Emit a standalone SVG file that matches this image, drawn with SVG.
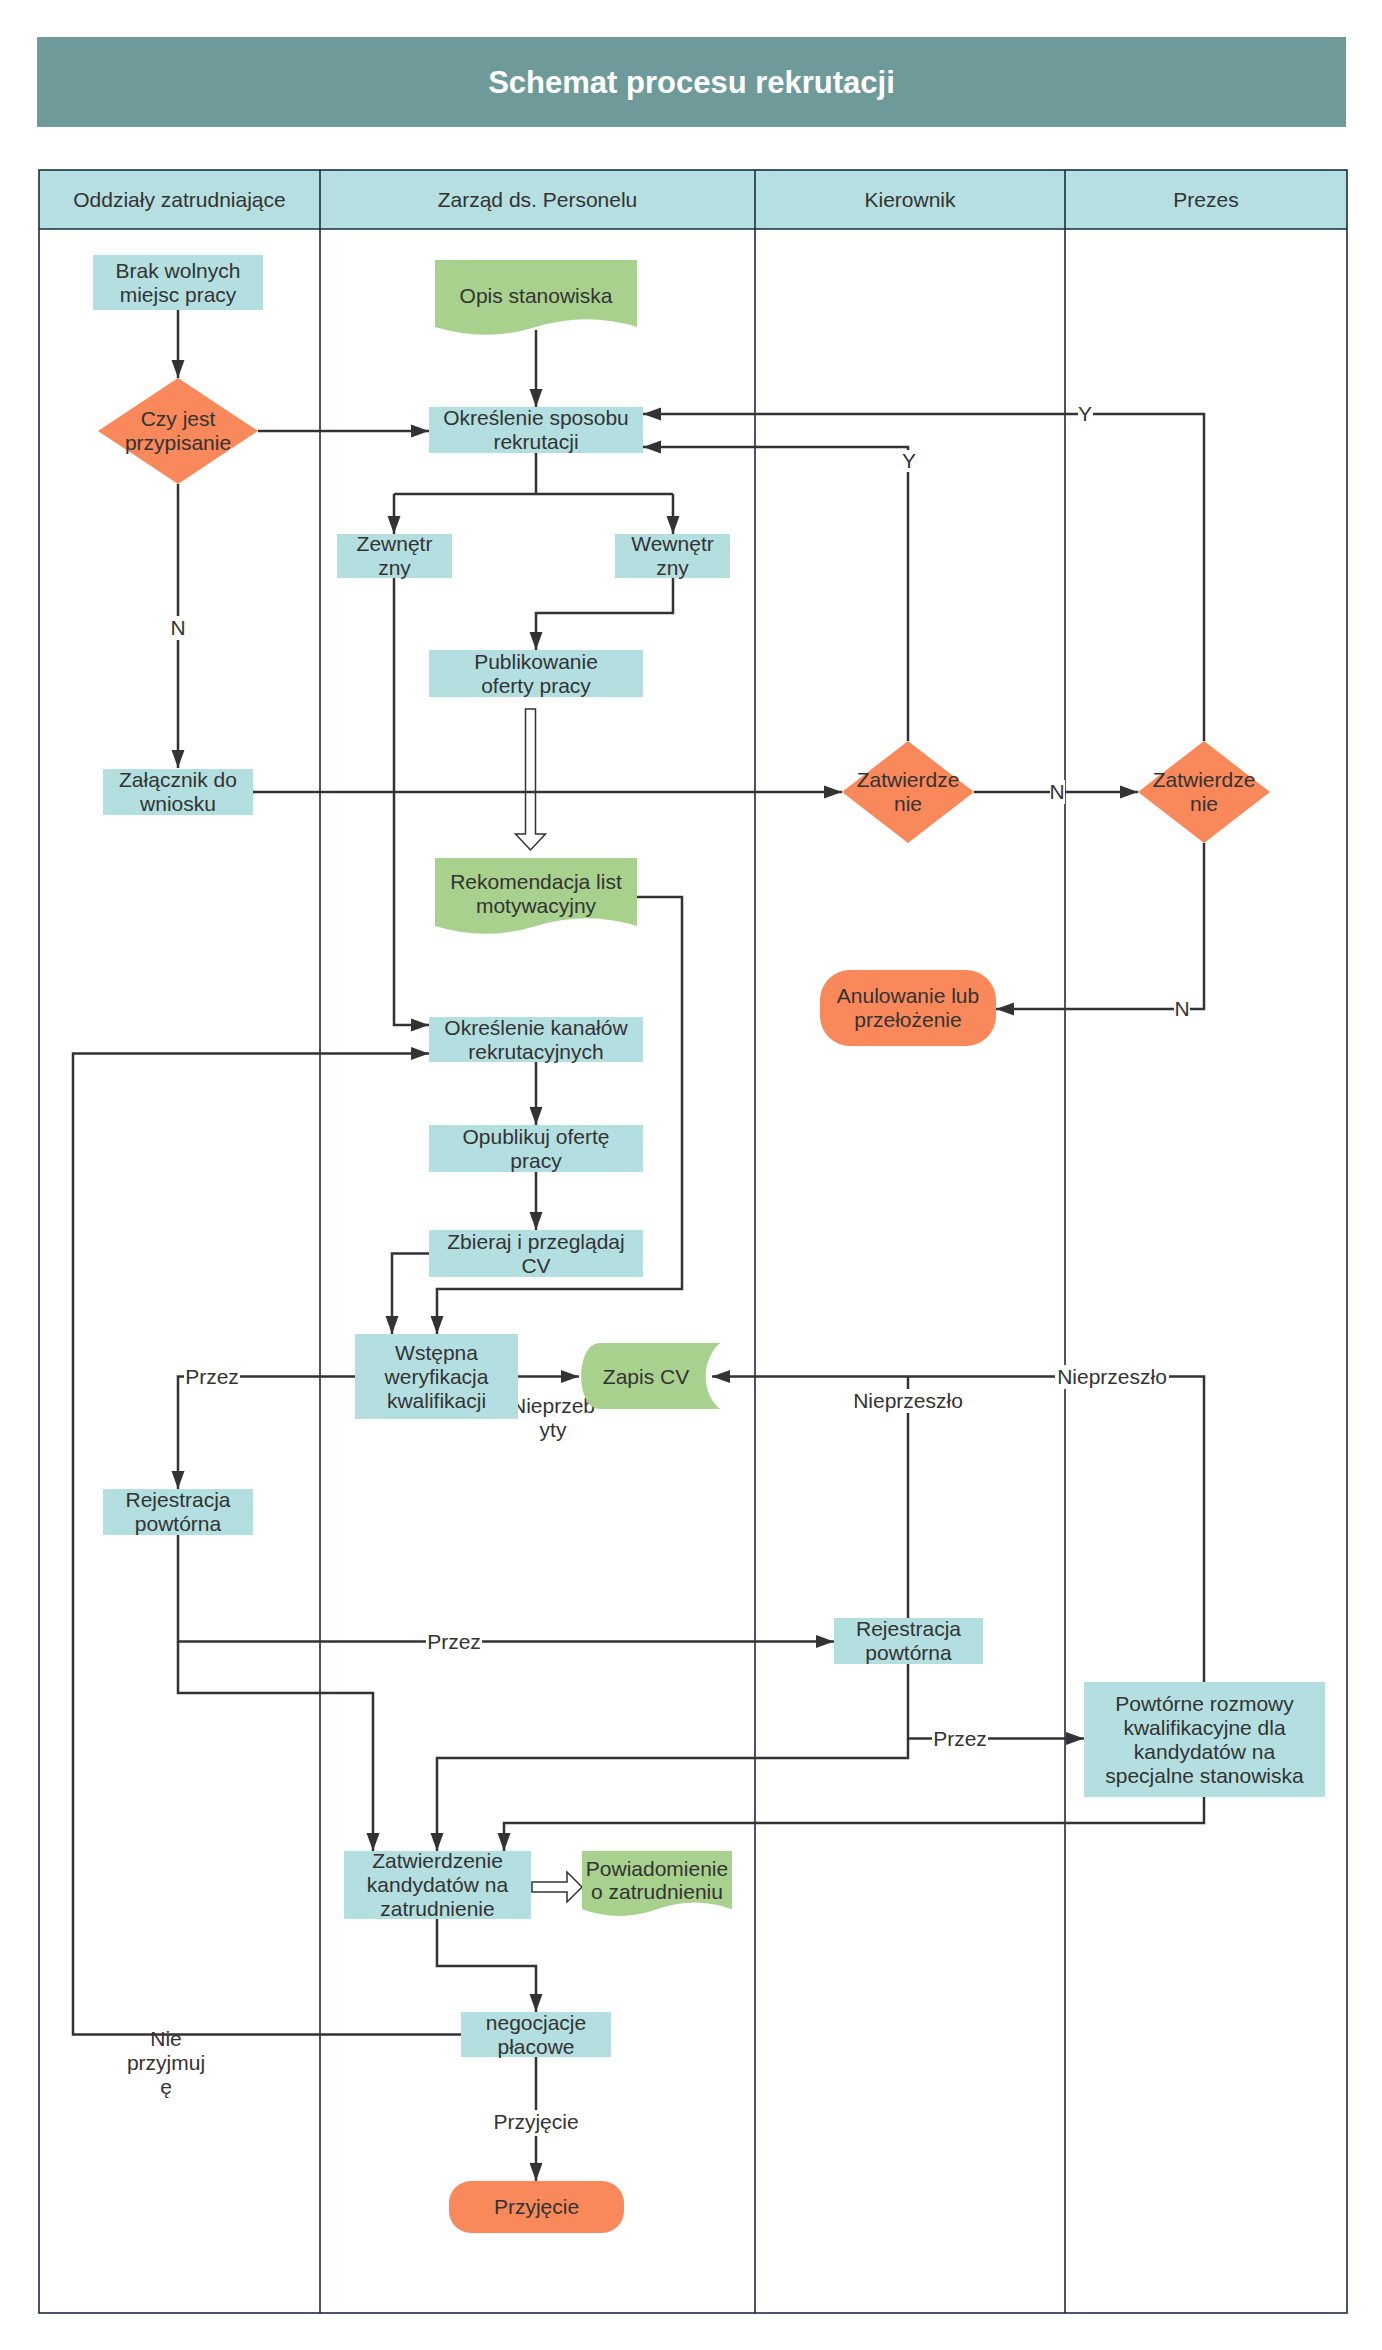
<svg xmlns="http://www.w3.org/2000/svg" width="1382" height="2350" viewBox="0 0 1382 2350">
<defs>
<marker id="arr" markerUnits="userSpaceOnUse" markerWidth="18" markerHeight="14" viewBox="0 0 18 14" refX="18" refY="7" orient="auto"><path d="M0,0.5 L18,7 L0,13.5 Z" fill="#333"/></marker>
<style>
.t{font-family:"Liberation Sans",Arial,sans-serif;font-size:21px;fill:#333;text-anchor:middle}
.ttl{font-family:"Liberation Sans",Arial,sans-serif;font-size:31px;font-weight:bold;fill:#fff;text-anchor:middle}
.box{fill:#b4dfe0}
.org{fill:#f9885a}
.grn{fill:#a8d18d}
.ln{fill:none;stroke:#333;stroke-width:2.5}
.ar{fill:none;stroke:#333;stroke-width:2.5;marker-end:url(#arr)}
.lane{fill:none;stroke:#1b2b45;stroke-width:1.6}
.bg{fill:#fff}
.blk{fill:#fff;stroke:#333;stroke-width:1.5}
</style>
</defs>
<rect x="0" y="0" width="1382" height="2350" fill="#fff"/>
<g id="title">
<rect x="37" y="37" width="1309" height="90" fill="#6e9b9a"/>
<text class="ttl" x="691.5" y="93">Schemat procesu rekrutacji</text>
</g>
<g id="lanes">
<rect x="39" y="170" width="1308" height="59" fill="#b5dfe0"/>
<rect class="lane" x="39" y="170" width="1308" height="2143"/>
<line class="lane" x1="39" y1="229" x2="1347" y2="229"/>
<line class="lane" x1="320" y1="170" x2="320" y2="2313"/>
<line class="lane" x1="755" y1="170" x2="755" y2="2313"/>
<line class="lane" x1="1065" y1="170" x2="1065" y2="2313"/>
<text class="t" x="179.5" y="206.5">Oddziały zatrudniające</text>
<text class="t" x="537.5" y="206.5">Zarząd ds. Personelu</text>
<text class="t" x="910" y="206.5">Kierownik</text>
<text class="t" x="1206" y="206.5">Prezes</text>
</g>
<g id="connectors">
<path class="ar" d="M178,310 V378"/>
<path class="ar" d="M258,431 H429"/>
<path class="ar" d="M536,330 V407"/>
<path class="ln" d="M536,453 V494 M394,494 H673"/>
<path class="ar" d="M394,494 V534"/>
<path class="ar" d="M673,494 V534"/>
<path class="ar" d="M673,578 V613 H536 V650"/>
<path class="blk" d="M525.5,709 H535.5 V834 H545.5 L530.5,850 L515.5,834 H525.5 Z"/>
<path class="ar" d="M394,578 V1025 H429"/>
<path class="ar" d="M637,897 H682 V1289 H437 V1334"/>
<path class="ar" d="M253,792 H842"/>
<path class="ar" d="M178,484 V768"/>
<path class="ar" d="M974,792 H1138"/>
<path class="ar" d="M908,741 V447 H643"/>
<path class="ar" d="M1204,741 V414 H643"/>
<path class="ar" d="M1204,843 V1009 H996"/>
<path class="ar" d="M536,1062 V1125"/>
<path class="ar" d="M536,1172 V1230"/>
<path class="ar" d="M429,1253.5 H392 V1334"/>
<path class="ar" d="M518,1376.5 H579"/>
<path class="ar" d="M355,1376.5 H178 V1489"/>
<path class="ar" d="M178,1535 V1641.5 H834"/>
<path class="ar" d="M178,1641.5 V1693 H373 V1851"/>
<path class="ln" d="M908,1618 V1376.5"/>
<path class="ar" d="M1204,1682 V1376.5 H712"/>
<path class="ar" d="M908,1664 V1758 H437 V1851"/>
<path class="ar" d="M908,1738.5 H1084"/>
<path class="ar" d="M1204,1797 V1823 H504 V1851"/>
<path class="blk" d="M532,1882 H567 V1872 L582,1887 L567,1902 V1892 H532 Z"/>
<path class="ar" d="M437,1919 V1966 H536 V2012"/>
<path class="ar" d="M461,2034.5 H73 V1053.5 H429"/>
<path class="ar" d="M536,2057 V2181"/>
<rect class="bg" x="170" y="616" width="16" height="24"/>
<text class="t" x="178" y="635">N</text>
<rect class="bg" x="1050" y="780" width="15" height="24"/>
<text class="t" x="1057" y="799">N</text>
<rect class="bg" x="1078" y="402" width="15" height="24"/>
<text class="t" x="1085" y="421">Y</text>
<rect class="bg" x="902" y="450" width="15" height="22"/>
<text class="t" x="909" y="468">Y</text>
<rect class="bg" x="1174" y="997" width="16" height="24"/>
<text class="t" x="1182" y="1016">N</text>
<text class="t" x="553" y="1413">Nieprzeb</text>
<text class="t" x="553" y="1437">yty</text>
<rect class="bg" x="184" y="1365" width="56" height="24"/>
<text class="t" x="212" y="1383.5">Przez</text>
<rect class="bg" x="426" y="1630" width="56" height="24"/>
<text class="t" x="454" y="1648.5">Przez</text>
<rect class="bg" x="932" y="1727" width="56" height="24"/>
<text class="t" x="960" y="1745.5">Przez</text>
<rect class="bg" x="1055" y="1365" width="114" height="24"/>
<text class="t" x="1112" y="1383.5">Nieprzeszło</text>
<rect class="bg" x="851" y="1389" width="114" height="24"/>
<text class="t" x="908" y="1408">Nieprzeszło</text>
<text class="t" x="166" y="2046">Nie</text>
<text class="t" x="166" y="2070">przyjmuj</text>
<text class="t" x="166" y="2094">ę</text>
<rect class="bg" x="492" y="2110" width="88" height="26"/>
<text class="t" x="536" y="2129">Przyjęcie</text>
</g>
<g id="n_brak"><rect class="box" x="93" y="255" width="170" height="55"/><text class="t" x="178" y="277.5">Brak wolnych</text><text class="t" x="178" y="301.5">miejsc pracy</text></g>
<g id="n_czy"><path class="org" d="M178,378 L258,431 L178,484 L98,431 Z"/><text class="t" x="178" y="426">Czy jest</text><text class="t" x="178" y="450">przypisanie</text></g>
<g id="n_opis"><path class="grn" d="M435,260 H637 V327 Q586.5,311.6 536,327 T435,327 Z"/><text class="t" x="536" y="303">Opis stanowiska</text></g>
<g id="n_okr1"><rect class="box" x="429" y="407" width="214" height="46"/><text class="t" x="536" y="425">Określenie sposobu</text><text class="t" x="536" y="449">rekrutacji</text></g>
<g id="n_zew"><rect class="box" x="337" y="534" width="115" height="44"/><text class="t" x="394.5" y="551">Zewnętr</text><text class="t" x="394.5" y="575">zny</text></g>
<g id="n_wew"><rect class="box" x="615" y="534" width="115" height="44"/><text class="t" x="672.5" y="551">Wewnętr</text><text class="t" x="672.5" y="575">zny</text></g>
<g id="n_pub"><rect class="box" x="429" y="650" width="214" height="47"/><text class="t" x="536" y="668.5">Publikowanie</text><text class="t" x="536" y="692.5">oferty pracy</text></g>
<g id="n_rek"><path class="grn" d="M435,858 H637 V926 Q586.5,910.3 536,926 T435,926 Z"/><text class="t" x="536" y="889">Rekomendacja list</text><text class="t" x="536" y="913">motywacyjny</text></g>
<g id="n_zal"><rect class="box" x="103" y="769" width="150" height="46"/><text class="t" x="178" y="787">Załącznik do</text><text class="t" x="178" y="811">wniosku</text></g>
<g id="n_zatK"><path class="org" d="M908,741 L974,792 L908,843 L842,792 Z"/><text class="t" x="908" y="787">Zatwierdze</text><text class="t" x="908" y="811">nie</text></g>
<g id="n_zatP"><path class="org" d="M1204,741 L1270,792 L1204,843 L1138,792 Z"/><text class="t" x="1204" y="787">Zatwierdze</text><text class="t" x="1204" y="811">nie</text></g>
<g id="n_anul"><rect class="org" x="820" y="970" width="176" height="76" rx="30" ry="30"/><text class="t" x="908" y="1003">Anulowanie lub</text><text class="t" x="908" y="1027">przełożenie</text></g>
<g id="n_okr2"><rect class="box" x="429" y="1017" width="214" height="45"/><text class="t" x="536" y="1034.5">Określenie kanałów</text><text class="t" x="536" y="1058.5">rekrutacyjnych</text></g>
<g id="n_opu"><rect class="box" x="429" y="1125" width="214" height="47"/><text class="t" x="536" y="1143.5">Opublikuj ofertę</text><text class="t" x="536" y="1167.5">pracy</text></g>
<g id="n_zbi"><rect class="box" x="429" y="1230" width="214" height="47"/><text class="t" x="536" y="1248.5">Zbieraj i przeglądaj</text><text class="t" x="536" y="1272.5">CV</text></g>
<g id="n_wst"><rect class="box" x="355" y="1334" width="163" height="85"/><text class="t" x="436.5" y="1360">Wstępna</text><text class="t" x="436.5" y="1384">weryfikacja</text><text class="t" x="436.5" y="1408">kwalifikacji</text></g>
<g id="n_zapis"><path class="grn" d="M600,1343 H720 C701,1360 701,1393 720,1409 H600 C575,1409 575,1343 600,1343 Z"/><text class="t" x="646" y="1383.5">Zapis CV</text></g>
<g id="n_rej1"><rect class="box" x="103" y="1489" width="150" height="46"/><text class="t" x="178" y="1507">Rejestracja</text><text class="t" x="178" y="1531">powtórna</text></g>
<g id="n_rej2"><rect class="box" x="834" y="1618" width="149" height="46"/><text class="t" x="908.5" y="1636">Rejestracja</text><text class="t" x="908.5" y="1660">powtórna</text></g>
<g id="n_pow"><rect class="box" x="1084" y="1682" width="241" height="115"/><text class="t" x="1204.5" y="1710.5">Powtórne rozmowy</text><text class="t" x="1204.5" y="1734.5">kwalifikacyjne dla</text><text class="t" x="1204.5" y="1758.5">kandydatów na</text><text class="t" x="1204.5" y="1782.5">specjalne stanowiska</text></g>
<g id="n_zatw"><rect class="box" x="344" y="1851" width="187" height="68"/><text class="t" x="437.5" y="1868">Zatwierdzenie</text><text class="t" x="437.5" y="1892">kandydatów na</text><text class="t" x="437.5" y="1916">zatrudnienie</text></g>
<g id="n_powiad"><path class="grn" d="M582,1851 H732 V1909.3 Q694.5,1895.9 657,1909.3 T582,1909.3 Z"/><text class="t" x="657" y="1876">Powiadomienie</text><text class="t" x="657" y="1899">o zatrudnieniu</text></g>
<g id="n_neg"><rect class="box" x="461" y="2012" width="150" height="45"/><text class="t" x="536" y="2029.5">negocjacje</text><text class="t" x="536" y="2053.5">płacowe</text></g>
<g id="n_przyj"><rect class="org" x="449" y="2181" width="175" height="52" rx="22" ry="22"/><text class="t" x="536.5" y="2214">Przyjęcie</text></g>
</svg>
